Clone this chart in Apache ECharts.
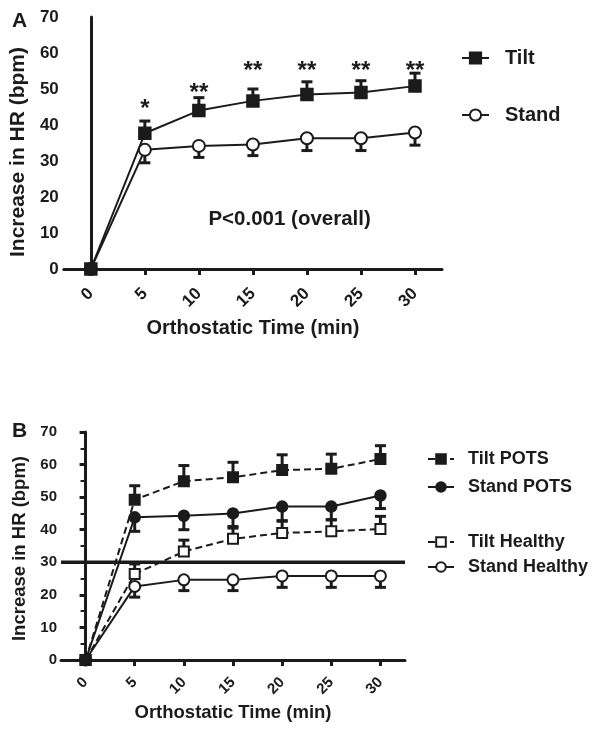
<!DOCTYPE html>
<html><head><meta charset="utf-8">
<script src="https://cdn.jsdelivr.net/npm/echarts@6/dist/echarts.min.js"></script>
<style>html,body{margin:0;padding:0;background:#fff}#c{width:601px;height:733px}</style>
</head><body><div id="c"></div>
<script>
// ---- data ----
const timeTicks = [0, 5, 10, 15, 20, 25, 30];
const tiltA = [0, 37.7, 44.0, 46.7, 48.5, 49.0, 50.8];
const tiltA_sem = [0, 3.4, 3.6, 3.3, 3.5, 3.3, 3.6];
const standA = [0, 33.1, 34.2, 34.6, 36.3, 36.3, 37.9];
const standA_sem = [0, 3.6, 3.2, 3.1, 3.4, 3.4, 3.5];
const sigX = [5, 10, 15, 20, 25, 30];
const sigY = [44.3, 48.8, 55, 55, 55, 55];
const sigLabels = ['*', '**', '**', '**', '**', '**'];
const pNote = { x: 18.4, y: 13.9, text: 'P<0.001 (overall)' };

const tiltPOTS = [0, 49.2, 54.9, 56.1, 58.3, 58.7, 61.7];
const tiltPOTS_sem = [0, 4.3, 4.8, 4.6, 4.7, 4.5, 4.1];
const standPOTS = [0, 43.8, 44.3, 45.0, 47.1, 47.1, 50.5];
const standPOTS_sem = [0, 4.3, 4.3, 4.5, 4.5, 4.1, 4.0];
const tiltHealthy = [0, 26.4, 33.3, 37.2, 39.0, 39.5, 40.2];
const tiltHealthy_sem = [0, 3.1, 3.5, 3.8, 3.8, 3.6, 3.9];
const standHealthy = [0, 22.6, 24.6, 24.6, 25.8, 25.8, 25.8];
const standHealthy_sem = [0, 3.3, 3.3, 3.3, 3.5, 3.5, 3.5];
const thresholdX = [-2.5, 32.5];
const thresholdY = 30;

// ---- helpers ----
const INK = '#1b1b1b';
const FONT = 'Liberation Sans, Arial, sans-serif';
function pts(vals) { return timeTicks.map((t, i) => [t, vals[i]]); }
function errData(vals, sem, dir) {
  return timeTicks.map((t, i) => [t, vals[i], vals[i] + dir * sem[i]]).filter(d => d[1] !== d[2]);
}
function errSeries(vals, sem, dir, axis) {
  return {
    type: 'custom', xAxisIndex: axis, yAxisIndex: axis, z: 1, silent: true,
    data: errData(vals, sem, dir),
    renderItem: function (params, api) {
      const a = api.coord([api.value(0), api.value(1)]);
      const b = api.coord([api.value(0), api.value(2)]);
      const st = { stroke: INK, lineWidth: 3 };
      return { type: 'group', children: [
        { type: 'line', shape: { x1: a[0], y1: a[1], x2: b[0], y2: b[1] }, style: st },
        { type: 'line', shape: { x1: b[0] - 5.5, y1: b[1], x2: b[0] + 5.5, y2: b[1] }, style: st }
      ]};
    }
  };
}
function textSeries(items, fs) {
  return {
    type: 'custom', xAxisIndex: 0, yAxisIndex: 0, z: 5, silent: true, clip: false,
    data: items.map(d => [d[0], d[1]]),
    renderItem: function (params, api) {
      const p = api.coord([api.value(0), api.value(1)]);
      return { type: 'text', x: p[0], y: p[1], style: {
        text: items[params.dataIndex][2], fill: INK, fontFamily: FONT, fontWeight: 'bold', fontSize: fs,
        align: 'center', verticalAlign: 'middle' } };
    }
  };
}
function lineSeries(name, vals, axis, symbol, size, dashed) {
  return {
    name: name, type: 'line', xAxisIndex: axis, yAxisIndex: axis, z: 3,
    data: pts(vals), symbol: symbol, symbolSize: size, showAllSymbol: true,
    lineStyle: { color: INK, width: 2, type: dashed ? [7, 4] : 'solid' },
    itemStyle: { color: INK, borderColor: INK, borderWidth: 2.5 },
    emphasis: { disabled: true }, animation: false
  };
}
function xAxisCfg(grid, fs, nfs, nameGap, margin) {
  return {
    type: 'value', gridIndex: grid, min: -2.5, max: 32.5,
    name: 'Orthostatic Time (min)', nameLocation: 'middle', nameGap: nameGap,
    nameTextStyle: { fontFamily: FONT, fontWeight: 'bold', fontSize: nfs, color: INK },
    axisLine: { show: true, onZero: false, lineStyle: { color: INK, width: 3 } },
    axisTick: { show: true, customValues: timeTicks, length: 6, lineStyle: { color: INK, width: 3 } },
    axisLabel: { customValues: timeTicks, rotate: 45, margin: margin, fontFamily: FONT, fontWeight: 'bold', fontSize: fs, color: INK },
    splitLine: { show: false }
  };
}
function yAxisCfg(grid, fs, nfs, nameGap, ticks, shiftPad) {
  return {
    type: 'value', gridIndex: grid, min: 0, max: 70, interval: 10,
    name: 'Increase in HR (bpm)', nameLocation: 'middle', nameGap: nameGap, nameRotate: 90,
    nameTextStyle: { fontFamily: FONT, fontWeight: 'bold', fontSize: nfs, color: INK, padding: [0, shiftPad, 0, 0] },
    axisLine: { show: true, lineStyle: { color: INK, width: 3 } },
    axisTick: { show: ticks, length: 6, lineStyle: { color: INK, width: 3 } },
    minorTick: { show: ticks, splitNumber: 2, length: 5, lineStyle: { color: INK, width: 2 } },
    axisLabel: { margin: ticks ? 4 : 5, fontFamily: FONT, fontWeight: 'bold', fontSize: fs, color: INK },
    splitLine: { show: false }
  };
}
const legendText = (fs, pad) => ({ fontFamily: FONT, fontWeight: 'bold', fontSize: fs, lineHeight: fs + 2, color: INK, padding: [0, 0, 0, pad] });

const chart = echarts.init(document.getElementById('c'), null, { renderer: 'canvas' });
chart.setOption({
  animation: false,
  backgroundColor: '#fff',
  title: [
    { text: 'A', left: 12, top: 11, padding: 0, textStyle: { fontFamily: FONT, fontWeight: 'bold', fontSize: 21, color: INK } },
    { text: 'B', left: 12, top: 421, padding: 0, textStyle: { fontFamily: FONT, fontWeight: 'bold', fontSize: 21, color: INK } }
  ],
  grid: [
    { left: 62, top: 17, right: 159, bottom: 464 },
    { left: 61, top: 432, right: 196, bottom: 73 }
  ],
  xAxis: [xAxisCfg(0, 17, 20, 49, 22), xAxisCfg(1, 15, 18.5, 43, 20)],
  yAxis: [yAxisCfg(0, 17, 21, 31, false, 18), yAxisCfg(1, 15, 18.5, 32, true, 5)],
  legend: [
    { data: ['Tilt', 'Stand'], orient: 'vertical', left: 461, top: 47, padding: 0, itemWidth: 27, itemHeight: 14, itemGap: 35,
      textStyle: legendText(20, 11), selectedMode: false },
    { data: ['Tilt POTS', 'Stand POTS'], orient: 'vertical', left: 427, top: 449, padding: 0, itemWidth: 26, itemHeight: 12, itemGap: 8,
      textStyle: legendText(18, 9), selectedMode: false },
    { data: ['Tilt Healthy', 'Stand Healthy'], orient: 'vertical', left: 427, top: 532, padding: 0, itemWidth: 26, itemHeight: 12, itemGap: 5,
      textStyle: legendText(18, 9), selectedMode: false }
  ],
  series: [
    errSeries(tiltA, tiltA_sem, 1, 0),
    errSeries(standA, standA_sem, -1, 0),
    lineSeries('Stand', standA, 0, 'emptyCircle', 12, false),
    lineSeries('Tilt', tiltA, 0, 'rect', 11, false),
    textSeries(sigX.map((x, i) => [x, sigY[i], sigLabels[i]]), 24),
    textSeries([[pNote.x, pNote.y, pNote.text]], 20.5),
    {
      type: 'line', xAxisIndex: 1, yAxisIndex: 1, z: 2, silent: true, symbol: 'none',
      data: thresholdX.map(x => [x, thresholdY]),
      lineStyle: { color: INK, width: 3.5 }
    },
    errSeries(tiltPOTS, tiltPOTS_sem, 1, 1),
    errSeries(standPOTS, standPOTS_sem, -1, 1),
    errSeries(tiltHealthy, tiltHealthy_sem, 1, 1),
    errSeries(standHealthy, standHealthy_sem, -1, 1),
    lineSeries('Stand Healthy', standHealthy, 1, 'emptyCircle', 11, false),
    lineSeries('Tilt Healthy', tiltHealthy, 1, 'emptyRect', 10, true),
    lineSeries('Stand POTS', standPOTS, 1, 'circle', 10, false),
    lineSeries('Tilt POTS', tiltPOTS, 1, 'rect', 9.5, true)
  ]
});
</script></body></html>
